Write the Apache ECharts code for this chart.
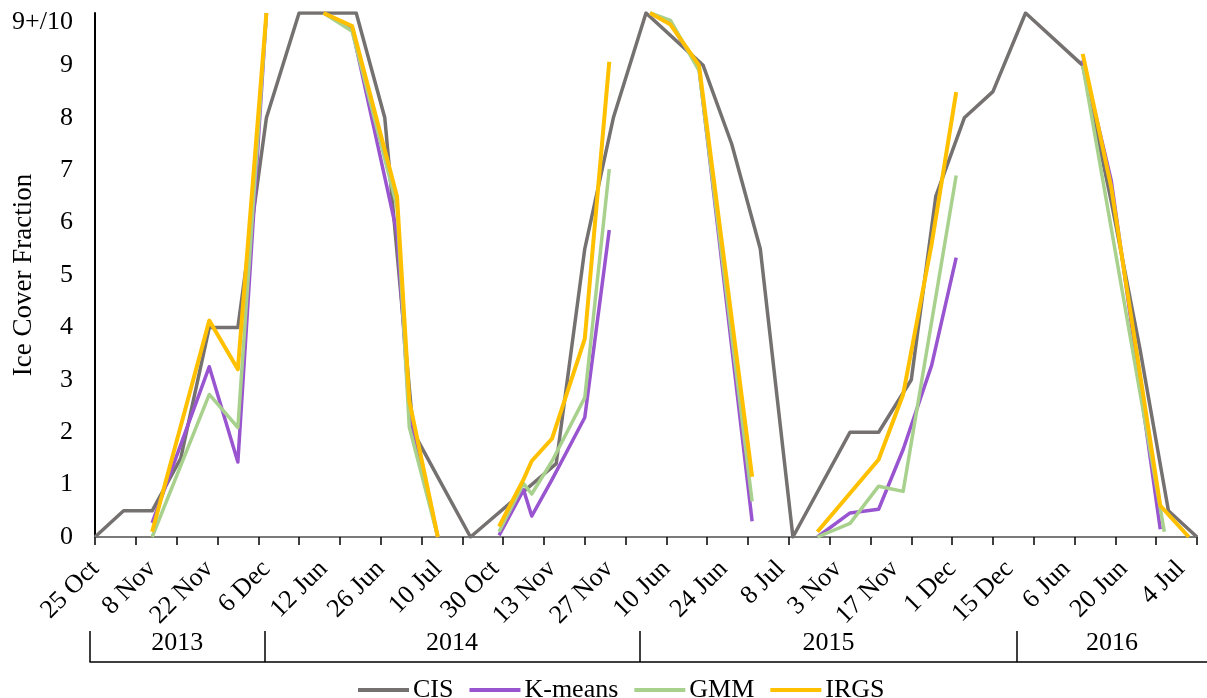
<!DOCTYPE html>
<html>
<head>
<meta charset="utf-8">
<title>Ice Cover Fraction</title>
<script src="https://cdn.jsdelivr.net/npm/echarts@6.0.0/dist/echarts.min.js"></script>
<style>
  html, body { margin: 0; padding: 0; background: #fff; }
  #main { width: 1207px; height: 698px; }
</style>
</head>
<body>
<div id="main"></div>
<script>
// x is a day index counted from 25 Oct 2013 (seasons are packed next to each other)
var tickDays = [0,10,20,30,40,50,60,70,80,90,100,110,120,130,140,150,160,170,180,190,200,210,220,230,240,250,260,270];
var labelDays = [0,14,28,42,56,70,84,98,112,126,140,154,168,182,196,210,224,238,252,266];
var labelNames = ['25 Oct','8 Nov','22 Nov','6 Dec','12 Jun','26 Jun','10 Jul','30 Oct','13 Nov','27 Nov',
                  '10 Jun','24 Jun','8 Jul','3 Nov','17 Nov','1 Dec','15 Dec','6 Jun','20 Jun','4 Jul'];

// year brackets under the dates
var years = ['2013','2014','2015','2016'];
var yearEdges = [-1.2, 41.5, 133.5, 226, 272.5];

// CIS ice charts
var cisDay = [0,7,14,21,28,35,42,50,57,64,71,78,85,92,113,120,127,135,149,156,163,171,185,192,200,206,213,220,228,242,249,256,263,270];
var cisVal = [0,0.5,0.5,1.5,4,4,8,10,10,10,8,2,1,0,1.4,5.5,8,10,9,7.5,5.5,0,2,2,3,6.5,8,8.5,10,9,6.4,3.6,0.5,0];

// null = gap between seasons
var kmDay = [14,28,35,42,null,56,63,74,77,84,null,99,105,107,112,120,126,null,136,141,148,161,null,177,185,192,198,205,211,null,242,249,261];
var kmVal = [0.27,3.25,1.43,10,null,10,9.7,5.8,2.4,0,null,0.03,0.9,0.4,1.1,2.28,5.86,null,10,9.8,8.95,0.3,null,0,0.46,0.53,1.67,3.28,5.33,null,9.1,6.8,0.15];

var gmmDay = [14,28,35,42,null,56,63,74,77,84,null,99,105,107,112,120,126,null,136,141,148,161,null,177,185,192,198,211,null,242,262];
var gmmVal = [0,2.72,2.09,10,null,10,9.65,6.3,2.1,0,null,0.1,1.02,0.82,1.45,2.66,7.02,null,10,9.86,8.9,0.68,null,0,0.26,0.97,0.87,6.9,null,9.0,0.1];

var irgsDay = [14,28,35,42,null,56,63,74,77,84,null,99,105,107,112,120,126,null,136,141,148,161,null,177,192,198,205,211,null,242,249,261,268];
var irgsVal = [0.1,4.13,3.2,10,null,10,9.75,6.5,2.6,0,null,0.2,1.1,1.45,1.88,3.78,9.07,null,10,9.78,9.0,1.15,null,0.1,1.48,2.72,5.6,8.49,null,9.22,6.67,0.6,0];

var FONT = 'Liberation Serif';

function pairs(days, vals) {
  return days.map(function (d, i) {
    if (d === null) return ['-', '-'];
    return [d, vals[i]];
  });
}

function lineSeries(name, days, vals, color, width) {
  return {
    name: name,
    type: 'line',
    xAxisIndex: 0,
    yAxisIndex: 0,
    data: pairs(days, vals),
    symbol: 'none',
    connectNulls: false,
    lineStyle: { color: color, width: width, join: 'round' },
    itemStyle: { color: color },
    animation: false
  };
}

var chart = echarts.init(document.getElementById('main'), null, { renderer: 'canvas' });

var option = {
  backgroundColor: '#fff',
  textStyle: { fontFamily: FONT, color: '#000' },
  grid: [
    { left: 95, right: 10, top: 13, bottom: 161, outerBoundsMode: 'none', containLabel: false },
    { left: 90, right: 0, top: 631, height: 31, outerBoundsMode: 'none', containLabel: false }
  ],
  legend: {
    top: 672,
    left: 353,
    icon: 'rect',
    itemWidth: 51,
    itemHeight: 4,
    itemGap: 16,
    textStyle: { fontFamily: FONT, fontSize: 26, color: '#000', padding: [0, 0, 0, -1] },
    data: ['CIS', 'K-means', 'GMM', 'IRGS']
  },
  xAxis: [
    {
      type: 'value',
      gridIndex: 0,
      min: 0,
      max: 270,
      splitLine: { show: false },
      axisLine: { lineStyle: { color: '#7a7a7a', width: 2 } },
      axisTick: {
        length: 8,
        customValues: tickDays,
        lineStyle: { color: '#000', width: 1.5 }
      },
      axisLabel: {
        customValues: labelDays,
        rotate: 45,
        margin: 28,
        fontFamily: FONT,
        fontSize: 26,
        color: '#000',
        formatter: function (v) {
          var i = labelDays.indexOf(Math.round(v));
          return i >= 0 ? labelNames[i] : '';
        }
      }
    },
    {
      // year bracket row
      type: 'value',
      gridIndex: 1,
      min: yearEdges[0],
      max: yearEdges[yearEdges.length - 1],
      splitLine: { show: false },
      axisLine: { lineStyle: { color: '#000', width: 1.5 } },
      axisTick: {
        inside: true,
        length: 31,
        customValues: yearEdges.slice(0, 4),
        lineStyle: { color: '#000', width: 1.5 }
      },
      axisLabel: {
        inside: true,
        margin: 6,
        fontFamily: FONT,
        fontSize: 26,
        color: '#000',
        customValues: years.map(function (y, i) { return (yearEdges[i] + yearEdges[i + 1]) / 2; }),
        formatter: function (v) {
          for (var i = 0; i < years.length; i++) {
            if (v > yearEdges[i] && v < yearEdges[i + 1]) return years[i];
          }
          return '';
        }
      }
    }
  ],
  yAxis: [
    {
      type: 'value',
      gridIndex: 0,
      min: 0,
      max: 10,
      interval: 1,
      name: 'Ice Cover Fraction',
      nameLocation: 'middle',
      nameGap: 58,
      nameMoveOverlap: false,
      nameTextStyle: { fontFamily: FONT, fontSize: 27, color: '#000' },
      splitLine: { show: false },
      axisLine: { show: true, lineStyle: { color: '#000', width: 2 } },
      axisTick: { show: false },
      axisLabel: {
        margin: 22,
        fontFamily: FONT,
        fontSize: 26,
        color: '#000',
        // top label sits a bit lower, like the original
        formatter: function (v) { return v === 10 ? '{top|9+/10}' : String(v); },
        rich: {
          top: { fontFamily: FONT, fontSize: 26, color: '#000', padding: [18, 0, 0, 0] }
        }
      }
    },
    { type: 'value', gridIndex: 1, show: false, min: 0, max: 1 }
  ],
  series: [
    lineSeries('CIS', cisDay, cisVal, '#767171', 3.5),
    lineSeries('K-means', kmDay, kmVal, '#9954d0', 3.5),
    lineSeries('GMM', gmmDay, gmmVal, '#a9d18e', 3.5),
    lineSeries('IRGS', irgsDay, irgsVal, '#ffc000', 4)
  ]
};

chart.setOption(option);
</script>
</body>
</html>
